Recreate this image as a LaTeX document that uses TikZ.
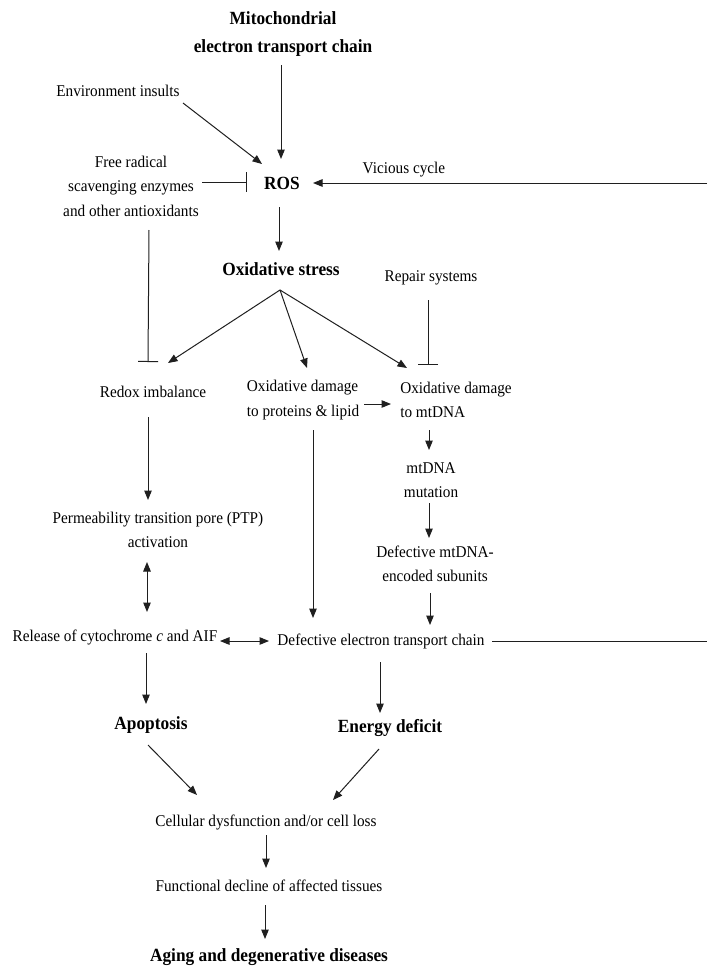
\documentclass[tikz,border=0pt]{standalone}
\usepackage{fontspec}
\setmainfont{Liberation Serif}[FakeStretch=0.93]
\usetikzlibrary{arrows.meta,calc}
\begin{document}
\begin{tikzpicture}[x=1pt,y=-1pt,
  txt/.style={inner sep=0pt,outer sep=0pt,font=\fontsize{16.4}{24.5}\selectfont,align=center},
  btxt/.style={inner sep=0pt,outer sep=0pt,font=\fontsize{18.6}{28}\selectfont\bfseries,align=center},
  conn/.style={line width=1pt,draw=black!88},
  arr/.style={conn,-{Triangle[length=9.5pt,width=7.5pt]}},
  dbl/.style={conn,{Triangle[length=9.5pt,width=7.5pt]}-{Triangle[length=9.5pt,width=7.5pt]}},
  inh/.style={conn,-{Bar[width=20pt]}}]
\fill[white] (0,0) rectangle (707,972);
\useasboundingbox (0,0) rectangle (707,972);

% nodes
\node[btxt] (mito) at (283,34) {Mitochondrial\\electron transport chain};
\node[txt] (env) at (118,91) {Environment insults};
\node[txt] (frs) at (131,186) {Free radical\\scavenging enzymes\\and other antioxidants};
\node[btxt] (ros) at (282,183) {ROS};
\node[txt] (vic) at (404,170) {Vicious cycle};
\coordinate (vicR) at (707,183);
\node[btxt] (ox) at (281,269) {Oxidative stress};
\node[txt] (rep) at (431,278) {Repair systems};
\node[txt] (redox) at (153,392) {Redox imbalance};
\node[txt,align=left] (odp) at (303,400) {Oxidative damage\\to proteins \& lipid};
\node[txt,align=left] (odm) at (456,400) {Oxidative damage\\to mtDNA};
\node[txt] (mut) at (431,480) {mtDNA\\mutation};
\node[txt] (def) at (435,564) {Defective mtDNA-\\encoded subunits};
\node[txt] (ptp) at (158,530) {Permeability transition pore (PTP)\\activation};
\node[txt] (rel) at (115,637) {Release of cytochrome \textit{c} and AIF};
\node[txt] (etc) at (381,641) {Defective electron transport chain};
\coordinate (etcR) at (707,641);
\node[btxt] (apo) at (151,725) {Apoptosis};
\node[btxt] (energy) at (390,728) {Energy deficit};
\node[txt] (cell) at (266,822) {Cellular dysfunction and/or cell loss};
\node[txt] (func) at (269,886) {Functional decline of affected tissues};
\node[btxt] (aging) at (269,957) {Aging and degenerative diseases};

% connectors
\draw[arr] ($(mito)+(-2,31)$) -- ($(ros)+(-1,-24)$);
\draw[arr] ($(env)+(65,12)$) -- ($(ros)+(-20,-19)$);
\draw[inh] ($(frs)+(71,-4)$) -- ($(ros)+(-35,-1)$);
\draw[arr] (vicR) -- ($(ros)+(31,0)$);
\draw[arr] ($(ros)+(-3,24)$) -- ($(ox)+(-2,-18)$);
\draw[arr] ($(ox)+(-1,21)$) -- ($(redox)+(15,-29)$);
\draw[arr] ($(ox)+(-1,21)$) -- ($(odp)+(4,-32)$);
\draw[arr] ($(ox)+(-1,21)$) -- ($(odm)+(-49,-32)$);
\draw[inh] ($(frs)+(18,44)$) -- ($(redox)+(-5,-30)$);
\draw[inh] ($(rep)+(-3,22)$) -- ($(odm)+(-28,-35)$);
\draw[arr] ($(odp)+(61,4)$) -- ($(odm)+(-65,4)$);
\draw[arr] ($(odm)+(-27,30)$) -- ($(mut)+(-2,-30)$);
\draw[arr] ($(mut)+(-2,23)$) -- ($(def)+(-6,-26)$);
\draw[arr] ($(def)+(-5,29)$) -- ($(etc)+(49,-16)$);
\draw[arr] ($(redox)+(-5,25)$) -- ($(ptp)+(-10,-30)$);
\draw[dbl] ($(ptp)+(-11,32)$) -- ($(rel)+(32,-25)$);
\draw[arr] ($(odp)+(10,30)$) -- ($(etc)+(-68,-23)$);
\draw[dbl] ($(rel)+(105,4)$) -- ($(etc)+(-112,0)$);
\draw[conn] ($(etc)+(111,0)$) -- (etcR);
\draw[arr] ($(rel)+(31,16)$) -- ($(apo)+(-5,-21)$);
\draw[arr] ($(etc)+(-1,21)$) -- ($(energy)+(-10,-15)$);
\draw[arr] ($(apo)+(-3,20)$) -- ($(cell)+(-69,-27)$);
\draw[arr] ($(energy)+(-11,21)$) -- ($(cell)+(67,-22)$);
\draw[arr] ($(cell)+(0,13)$) -- ($(func)+(-3,-18)$);
\draw[arr] ($(func)+(-4,19)$) -- ($(aging)+(-4,-18)$);
\end{tikzpicture}
\end{document}
